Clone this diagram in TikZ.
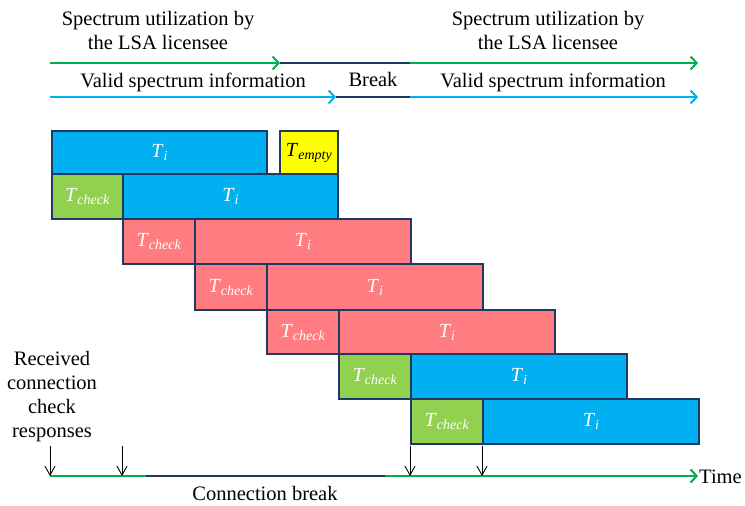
\documentclass[tikz,border=0pt]{standalone}
\usepackage{fontspec}
\setmainfont{Liberation Serif}
\usetikzlibrary{arrows.meta}
\definecolor{cblue}{HTML}{00B0F0}
\definecolor{cgreen}{HTML}{92D050}
\definecolor{cred}{HTML}{FF7C80}
\definecolor{cyell}{HTML}{FFFF00}
\definecolor{navy}{HTML}{1F3864}
\definecolor{lgreen}{HTML}{00B050}
\newcommand{\Tsub}[1]{\textit{T}\textsubscript{\textit{#1}}}
\tikzset{
  x=1pt, y=-1pt,
  slot/.style={draw=navy, line width=2.2pt, inner sep=0pt, anchor=north west, font=\fontsize{20}{20}\selectfont},
  ti/.style={slot, fill=cblue, text=white},
  chk/.style={slot, fill=cgreen, text=white},
  rd/.style={slot, fill=cred, text=white},
  emp/.style={slot, fill=cyell, text=black},
  lbl/.style={font=\fontsize{20.5}{24}\selectfont, align=center, inner sep=0pt},
  gline/.style={draw=lgreen, line width=2.4pt},
  bline/.style={draw=cblue, line width=2.4pt},
  nline/.style={draw=navy, line width=2.4pt},
  tip/.style={-{Straight Barb[length=6pt,width=13pt,line width=2pt]}},
  tick/.style={-{Straight Barb[length=9pt,width=10pt,line width=0.9pt]}, line width=0.9pt, draw=black}
}
\begin{document}
\begin{tikzpicture}
\useasboundingbox (0,0) rectangle (745,506);

% top headline texts
\node[lbl] (su1) at (158,30) {Spectrum utilization by\\the LSA licensee};
\node[lbl] (su2) at (548,30) {Spectrum utilization by\\the LSA licensee};
\node[lbl] (vs1) at (193,82) {Valid spectrum information};
\node[lbl] (vs2) at (553,82) {Valid spectrum information};
\node[lbl] (brk) at (373,79) {Break};

% spectrum utilization line
\coordinate (g0) at (50,63);
\coordinate (g1) at (280,63);
\coordinate (g2) at (410,63);
\coordinate (g3) at (698,63);
\draw[gline, tip] (g0) -- (g1);
\draw[nline] (g1) -- (g2);
\draw[gline, tip] (g2) -- (g3);

% valid information line
\coordinate (b0) at (50,97);
\coordinate (b1) at (336,97);
\coordinate (b2) at (410,97);
\coordinate (b3) at (698,97);
\draw[bline, tip] (b0) -- (b1);
\draw[nline] (b1) -- (b2);
\draw[bline, tip] (b2) -- (b3);

% slot rows
\node[ti, minimum width=215pt, minimum height=43pt] (r1a) at (51,130) {\Tsub{i}};
\node[emp, minimum width=58pt, minimum height=43pt] (r1b) at (279,130) {\Tsub{empty}};

\node[chk, minimum width=71pt, minimum height=45pt] (r2a) at (51,173) {\Tsub{check}};
\node[ti, minimum width=215pt, minimum height=45pt] (r2b) at (122,173) {\Tsub{i}};

\node[rd, minimum width=72pt, minimum height=45pt] (r3a) at (122,218) {\Tsub{check}};
\node[rd, minimum width=216pt, minimum height=45pt] (r3b) at (194,218) {\Tsub{i}};

\node[rd, minimum width=72pt, minimum height=46pt] (r4a) at (194,263) {\Tsub{check}};
\node[rd, minimum width=216pt, minimum height=46pt] (r4b) at (266,263) {\Tsub{i}};

\node[rd, minimum width=72pt, minimum height=44pt] (r5a) at (266,309) {\Tsub{check}};
\node[rd, minimum width=216pt, minimum height=44pt] (r5b) at (338,309) {\Tsub{i}};

\node[chk, minimum width=72pt, minimum height=45pt] (r6a) at (338,353) {\Tsub{check}};
\node[ti, minimum width=216pt, minimum height=45pt] (r6b) at (410,353) {\Tsub{i}};

\node[chk, minimum width=72pt, minimum height=45pt] (r7a) at (410,398) {\Tsub{check}};
\node[ti, minimum width=216pt, minimum height=45pt] (r7b) at (482,398) {\Tsub{i}};

% time axis
\coordinate (t0) at (50,476);
\coordinate (t1) at (698,476);
\coordinate (c0) at (146,476);
\coordinate (c1) at (385,476);
\draw[gline, tip] (t0) -- (t1);
\draw[nline] (c0) -- (c1);
\node[lbl, anchor=west] (time) at (699,477) {Time};
\node[lbl] (cb) at (265,493) {Connection break};
\node[lbl] (rcv) at (52,397) {Received\\connection\\check\\responses};

% received responses
\foreach \xx/\nm in {50/a,122/b,410/c,482/d}{
  \coordinate (u\nm) at (\xx,446);
  \coordinate (v\nm) at (\xx,476);
  \draw[tick] (u\nm) -- (v\nm);
}
\end{tikzpicture}
\end{document}
